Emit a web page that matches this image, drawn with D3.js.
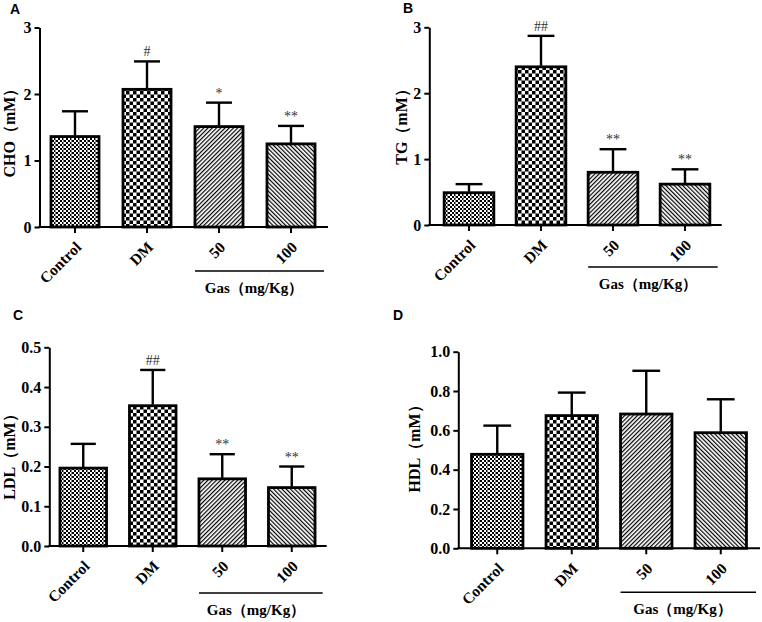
<!DOCTYPE html>
<html><head><meta charset="utf-8">
<script src="https://cdn.jsdelivr.net/npm/d3@7/dist/d3.min.js"></script>
<style>
html,body{margin:0;padding:0;background:#fff;}
svg{display:block;}
text{font-family:"Liberation Serif","Times New Roman",serif;font-weight:bold;fill:#000;}
.letter{font-family:"Liberation Sans",Arial,sans-serif;font-weight:bold;font-size:14px;}
</style></head><body>
<svg id="chart" width="762" height="622"></svg>
<script>
// ---- data ----
const categories = ["Control", "DM", "50", "100"];
const groupLabel = "Gas（mg/Kg）";

const choMean = [1.36, 2.07, 1.51, 1.25];
const choSD   = [0.38, 0.42, 0.36, 0.27];
const choSig  = ["", "#", "*", "**"];
const choTicks = [0, 1, 2, 3];

const tgMean = [0.49, 2.40, 0.80, 0.62];
const tgSD   = [0.13, 0.47, 0.35, 0.225];
const tgSig  = ["", "##", "**", "**"];
const tgTicks = [0, 1, 2, 3];

const ldlMean = [0.196, 0.353, 0.169, 0.147];
const ldlSD   = [0.061, 0.090, 0.062, 0.053];
const ldlSig  = ["", "##", "**", "**"];
const ldlTicks = [0, 0.1, 0.2, 0.3, 0.4, 0.5];

const hdlMean = [0.478, 0.675, 0.683, 0.588];
const hdlSD   = [0.146, 0.117, 0.220, 0.170];
const hdlSig  = ["", "", "", ""];
const hdlTicks = [0, 0.2, 0.4, 0.6, 0.8, 1.0];

const panelLetters = ["A", "B", "C", "D"];
const yTitles = ["CHO（mM）", "TG（mM）", "LDL（mM）", "HDL（mM）"];

// ---- layout (positions only) ----
const layout = [
  {mean: choMean, sd: choSD, sig: choSig, ticks: choTicks, fmt: d3.format("d"), ymax: 3,
   ax: 39.5, y0: 227, yTop: 27.5, xr: [39, 327], xEnd: 328, pi: 0.333,
   ylab: [15, 129], letter: [10, 14], lineDy: 44},
  {mean: tgMean, sd: tgSD, sig: tgSig, ticks: tgTicks, fmt: d3.format("d"), ymax: 3,
   ax: 429.3, y0: 225, yTop: 27.3, xr: [433, 721], xEnd: 721.7, pi: 0.31,
   ylab: [407, 123], letter: [403, 13], lineDy: 42},
  {mean: ldlMean, sd: ldlSD, sig: ldlSig, ticks: ldlTicks, fmt: d3.format(".1f"), ymax: 0.5,
   ax: 49.3, y0: 546, yTop: 347.3, xr: [48.5, 326.5], xEnd: 326.7, pi: 0.33,
   ylab: [15, 453], letter: [13, 320], lineDy: 47},
  {mean: hdlMean, sd: hdlSD, sig: hdlSig, ticks: hdlTicks, fmt: d3.format(".1f"), ymax: 1.0,
   ax: 458.3, y0: 548.3, yTop: 351.7, xr: [460, 758], xEnd: 760, pi: 0.31,
   ylab: [420, 445], letter: [393, 320], lineDy: 44}
];

const SERIF = '"Liberation Serif","Times New Roman",serif';
const svg = d3.select("#chart");
const defs = svg.append("defs");

// patterns
const pc = defs.append("pattern").attr("id", "pat0").attr("patternUnits", "userSpaceOnUse")
  .attr("width", 8).attr("height", 4);
pc.append("rect").attr("width", 8).attr("height", 4).attr("fill", "#fff");
[[0,0],[4,0],[2,2],[6,2]].forEach(([x,y]) => pc.append("rect").attr("x", x).attr("y", y)
  .attr("width", 2).attr("height", 2).attr("fill", "#000"));
pc.append("rect").attr("x", 7).attr("y", 0).attr("width", 1).attr("height", 4).attr("fill", "#888");
const pd = defs.append("pattern").attr("id", "pat1").attr("patternUnits", "userSpaceOnUse")
  .attr("width", 7).attr("height", 7);
pd.append("rect").attr("width", 7).attr("height", 7).attr("fill", "#fff");
pd.append("rect").attr("x", 0).attr("y", 0).attr("width", 3.5).attr("height", 3.5).attr("fill", "#000");
pd.append("rect").attr("x", 3.5).attr("y", 3.5).attr("width", 3.5).attr("height", 3.5).attr("fill", "#000");
[["pat2", 45], ["pat3", -45]].forEach(([id, ang]) => {
  const p = defs.append("pattern").attr("id", id).attr("patternUnits", "userSpaceOnUse")
    .attr("width", 3).attr("height", 3).attr("patternTransform", `rotate(${ang})`);
  p.append("rect").attr("width", 3).attr("height", 3).attr("fill", "#fff");
  p.append("rect").attr("x", 0).attr("y", 0).attr("width", 1.2).attr("height", 3).attr("fill", "#000");
});

layout.forEach((L, i) => {
  const g = svg.append("g");
  const data = categories.map((c, k) => ({cat: c, mean: L.mean[k], sd: L.sd[k], sig: L.sig[k], k}));

  const x = d3.scaleBand().domain(categories).range(L.xr)
    .paddingInner(L.pi).paddingOuter(L.pi / 2);
  const y = d3.scaleLinear().domain([0, L.ymax]).range([L.y0, L.yTop]);
  const bw = x.bandwidth();

  g.selectAll("rect.bar").data(data).join("rect").attr("class", "bar")
    .attr("x", d => x(d.cat)).attr("width", bw)
    .attr("y", d => y(d.mean)).attr("height", d => y(0) - y(d.mean))
    .attr("fill", d => `url(#pat${d.k})`)
    .attr("stroke", "#000").attr("stroke-width", 2.8);

  const cap = bw * 0.27;
  g.selectAll("line.err").data(data).join("line").attr("class", "err")
    .attr("x1", d => x(d.cat) + bw / 2).attr("x2", d => x(d.cat) + bw / 2)
    .attr("y1", d => y(d.mean) - 1).attr("y2", d => y(d.mean + d.sd))
    .attr("stroke", "#000").attr("stroke-width", 2.4);
  g.selectAll("line.cap").data(data).join("line").attr("class", "cap")
    .attr("x1", d => x(d.cat) + bw / 2 - cap).attr("x2", d => x(d.cat) + bw / 2 + cap)
    .attr("y1", d => y(d.mean + d.sd)).attr("y2", d => y(d.mean + d.sd))
    .attr("stroke", "#000").attr("stroke-width", 2.4);

  g.selectAll("text.sig").data(data.filter(d => d.sig)).join("text").attr("class", "sig")
    .attr("x", d => x(d.cat) + bw / 2).attr("y", d => y(d.mean + d.sd) - 5)
    .attr("text-anchor", "middle").style("font-weight", "normal").style("font-size", "14px")
    .style("fill", "#333").text(d => d.sig);

  const ya = g.append("g").attr("transform", `translate(${L.ax},0)`)
    .call(d3.axisLeft(y).tickValues(L.ticks).tickFormat(L.fmt).tickSize(5).tickSizeOuter(0).tickPadding(3));
  ya.attr("font-family", null).attr("font-size", null);
  ya.select(".domain").attr("stroke-width", 2);
  ya.selectAll(".tick line").attr("stroke-width", 2);
  ya.selectAll(".tick text").style("font-size", "16px").style("font-family", SERIF)
    .style("font-weight", "bold");

  const xa = g.append("g").attr("transform", `translate(0,${L.y0})`)
    .call(d3.axisBottom(x).tickSize(6).tickSizeOuter(0));
  xa.attr("font-family", null).attr("font-size", null);
  xa.select(".domain").remove();
  xa.selectAll(".tick line").attr("stroke-width", 2);
  xa.selectAll(".tick text")
    .attr("text-anchor", "end").attr("x", 0).attr("y", 0).attr("dy", "0.75em")
    .attr("transform", "translate(-1,13) rotate(-45)")
    .style("font-size", "15.5px").style("font-family", SERIF).style("font-weight", "bold");
  g.append("line").attr("x1", L.ax - 1).attr("x2", L.xEnd).attr("y1", L.y0).attr("y2", L.y0)
    .attr("stroke", "#000").attr("stroke-width", 2);

  const lx1 = x("50"), lx2 = L.xEnd - 4, ly = L.y0 + L.lineDy;
  g.append("line").attr("x1", lx1).attr("x2", lx2).attr("y1", ly).attr("y2", ly)
    .attr("stroke", "#000").attr("stroke-width", 1.6);
  g.append("text").attr("x", (x("50") + x("100") + bw) / 2 - 1).attr("y", ly + 22)
    .attr("text-anchor", "middle").style("font-size", "15px").text(groupLabel);

  g.append("text").attr("transform", `translate(${L.ylab[0]},${L.ylab[1]}) rotate(-90)`)
    .attr("text-anchor", "middle").style("font-size", "16px").text(yTitles[i]);

  g.append("text").attr("class", "letter").attr("x", L.letter[0]).attr("y", L.letter[1])
    .text(panelLetters[i]);
});
</script>
</body></html>
